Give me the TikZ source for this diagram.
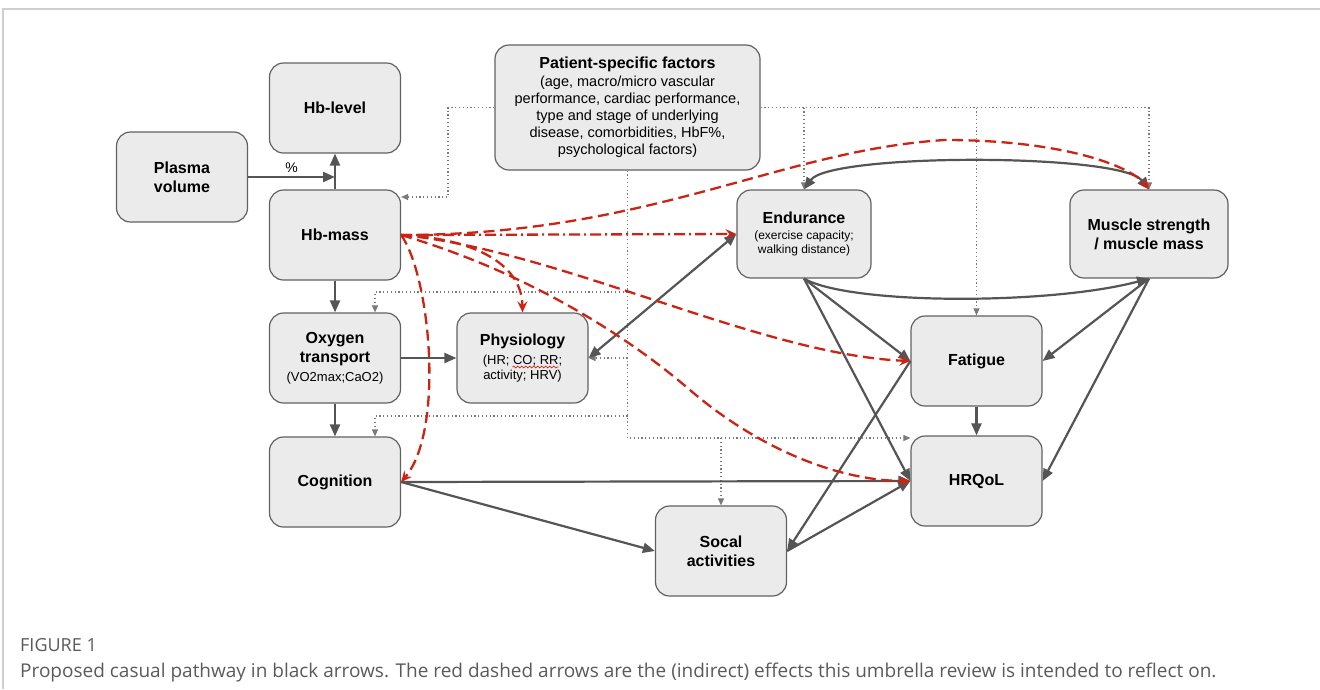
\documentclass[tikz,border=0pt]{standalone}
\usepackage{fontspec}
\setmainfont{Liberation Sans}
\newfontfamily\capfont{Open Sans}
\usetikzlibrary{arrows.meta,decorations.pathmorphing}
\definecolor{boxfill}{HTML}{EBEBEB}
\definecolor{boxline}{HTML}{616161}
\definecolor{linkgray}{HTML}{555555}
\definecolor{effectred}{HTML}{CC2414}
\definecolor{hintgray}{HTML}{7A7A7A}
\definecolor{capgray}{HTML}{5A5A5A}
\definecolor{framegray}{HTML}{CFCFCF}
\newcommand{\boxtitle}[1]{{\fontsize{16}{19}\selectfont\bfseries #1}}
\begin{document}
\begin{tikzpicture}[x=1pt,y=-1pt,
>={Triangle[length=12pt,width=10pt]},
box/.style={draw=boxline,fill=boxfill,line width=1.2pt,rounded corners=14pt,minimum width=131pt,minimum height=90pt,align=center,inner sep=2pt,font=\fontsize{16}{19}\selectfont\bfseries},
link/.style={draw=linkgray,line width=2.2pt,->},
effect/.style={draw=effectred,line width=2.3pt,dash pattern=on 11pt off 5.5pt,-{Stealth[length=11pt,width=10pt,inset=4pt]}},
hint/.style={draw=hintgray,line width=1.1pt,dash pattern=on 1.2pt off 2.6pt,-{Triangle[length=7pt,width=6pt]}}]
\useasboundingbox (0,0) rectangle (1320,689);
\draw[framegray,line width=1.2pt] (3,689) -- (3,9) -- (1320,9);
\node[box] (plasma) at (182,177) {Plasma\\volume};
\node[box] (hblevel) at (335,108) {Hb-level};
\node[box] (hbmass) at (335,235) {Hb-mass};
\node[box,minimum width=265pt,minimum height=125pt,font=\fontsize{14.5}{17}\selectfont] (patient) at (627.5,107.5) {\boxtitle{Patient-specific factors}\\[1pt](age, macro/micro vascular\\performance, cardiac performance,\\type and stage of underlying\\disease, comorbidities, HbF\%,\\psychological factors)};
\node[box,minimum width=134pt,minimum height=88pt,font=\fontsize{12}{14}\selectfont] (endur) at (804,234) {\boxtitle{Endurance}\\[1.5pt](exercise capacity;\\walking distance)};
\node[box,minimum width=158pt,minimum height=88pt] (muscle) at (1149,234) {Muscle strength\\/ muscle mass};
\node[box] (oxygen) at (335,358) {Oxygen\\transport\\{\fontsize{13}{14.5}\selectfont\mdseries (VO2max;CaO2)}};
\node[box,font=\fontsize{13}{14.5}\selectfont] (physio) at (522.5,358) {\boxtitle{Physiology}\\[5pt](HR; CO; RR;\\activity; HRV)};
\node[box] (fatigue) at (976.5,361) {Fatigue};
\node[box] (cognition) at (335,482) {Cognition};
\node[box] (hrqol) at (976.5,481) {HRQoL};
\node[box] (social) at (721,551) {Socal\\activities};
\draw[effectred,line width=0.7pt,decorate,decoration={snake,amplitude=0.9pt,segment length=4pt}] ([xshift=-10pt,yshift=-9pt]physio.center) -- ([xshift=36pt,yshift=-9pt]physio.center);
\coordinate (K1) at (448,197);
\coordinate (T1) at (627.5,292);
\coordinate (T2) at (627.5,358);
\coordinate (T3) at (627.5,416);
\coordinate (T4) at (627.5,438);
\coordinate (L1) at (375,292);
\coordinate (L2) at (375,416);
\draw[hint] (patient.west) -| (K1) -- (K1 -| hbmass.east);
\draw[hint] (patient.south) -- (T4) -- (T4 -| hrqol.west);
\draw[hint] (T1) -- (L1) -- (L1 |- oxygen.north);
\draw[hint] (T2) -- (T2 -| physio.east);
\draw[hint] (T3) -- (L2) -- (L2 |- cognition.north);
\draw[hint] (T4 -| social.north) -- (social.north);
\draw[hint] (patient.east) -| (muscle.north);
\foreach \n in {endur,fatigue}{
\draw[hint] (\n.north |- patient.east) -- (\n.north);
}
\draw[link] (plasma.east) -- node[above,font=\fontsize{14}{16}\selectfont] (pct) {\%} (plasma.east -| hbmass.north);
\draw[link] (hbmass.north) -- (hblevel.south);
\draw[link] (hbmass.south) -- (oxygen.north);
\draw[link] (oxygen.south) -- (cognition.north);
\draw[link] (oxygen.east) -- (physio.west);
\draw[link,<->] (physio.east) -- (endur.west);
\draw[link,<->] (endur.north) .. controls (830,153) and (1120,153) .. (muscle.north);
\draw[link] (endur.south) .. controls (850,305) and (1050,305) .. (muscle.south);
\draw[link] (endur.south) -- (fatigue.west);
\draw[link] (endur.south) -- (hrqol.west);
\draw[link] (muscle.south) -- (fatigue.east);
\draw[link] (muscle.south) -- (hrqol.east);
\draw[link] (fatigue.south) -- (hrqol.north);
\draw[link] (fatigue.west) -- (social.east);
\draw[link] (social.east) -- (hrqol.west);
\draw[link] (cognition.east) -- (hrqol.west);
\draw[link] (cognition.east) -- (social.west);
\draw[effect] (hbmass.east) .. controls (650,235) and (780,150) .. (945,140) .. controls (1060,140) and (1130,165) .. (muscle.north);
\draw[effect,dash pattern=on 11pt off 4pt on 2pt off 4pt] (hbmass.east) -- (endur.west);
\draw[effect] (hbmass.east) .. controls (470,238) and (522,262) .. (physio.north);
\draw[effect] (hbmass.east) .. controls (560,250) and (760,355) .. (fatigue.west);
\draw[effect] (hbmass.east) .. controls (520,270) and (620,330) .. (690,390) .. controls (760,450) and (840,481) .. (hrqol.west);
\draw[effect] (hbmass.east) .. controls (430,275) and (445,430) .. (cognition.east);
\node[anchor=west,inner sep=0pt,text=capgray,font=\capfont\fontsize{18}{21}\selectfont] (fignum) at (20,645) {FIGURE 1};
\node[anchor=west,inner sep=0pt,text=capgray,font=\capfont\fontsize{19}{22}\selectfont] (caption) at (20,673) {Proposed casual pathway in black arrows. The red dashed arrows are the (indirect) effects this umbrella review is intended to reflect on.};
\end{tikzpicture}
\end{document}
